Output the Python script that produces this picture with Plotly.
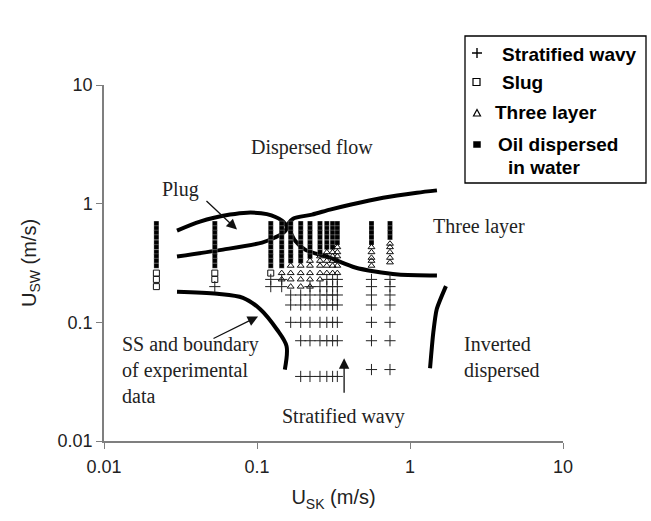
import math
import plotly.graph_objects as go

# ---------------- data ----------------
# superficial oil velocity of each measured column (m/s)
usk_cols = [0.022, 0.053, 0.123, 0.145, 0.166, 0.193, 0.222, 0.258, 0.286, 0.312, 0.335, 0.56, 0.74]

# superficial water velocities observed in every column, per flow regime (m/s)
usw_oil_dispersed = [
    [0.68, 0.62, 0.57, 0.52, 0.47, 0.43, 0.39, 0.36, 0.33, 0.30],
    [0.68, 0.62, 0.57, 0.52, 0.47, 0.43, 0.39, 0.36, 0.33, 0.30],
    [0.68, 0.62, 0.57, 0.52, 0.47, 0.43, 0.39, 0.36, 0.33, 0.30],
    [0.68, 0.62, 0.57, 0.52, 0.47, 0.43, 0.39, 0.36, 0.33, 0.30],
    [0.68, 0.62, 0.57, 0.52, 0.47, 0.43, 0.39, 0.36, 0.33],
    [0.68, 0.62, 0.57, 0.52, 0.47, 0.43, 0.39, 0.36, 0.33],
    [0.68, 0.62, 0.57, 0.52, 0.47, 0.43, 0.39, 0.36],
    [0.68, 0.62, 0.57, 0.52, 0.47, 0.43, 0.39],
    [0.68, 0.62, 0.57, 0.52, 0.47, 0.43],
    [0.68, 0.62, 0.57, 0.52, 0.47, 0.43],
    [0.68, 0.62, 0.57, 0.52, 0.47],
    [0.68, 0.62, 0.57, 0.52, 0.47],
    [0.68, 0.62, 0.57, 0.52],
]
usw_three_layer = [
    [], [], [],
    [0.26, 0.23],
    [0.30, 0.26, 0.23, 0.20],
    [0.30, 0.26, 0.23, 0.20],
    [0.33, 0.30, 0.26, 0.23, 0.20],
    [0.36, 0.33, 0.30, 0.26, 0.23],
    [0.39, 0.36, 0.33, 0.30, 0.26],
    [0.39, 0.36, 0.33, 0.30, 0.26],
    [0.43, 0.39, 0.36, 0.33, 0.30, 0.26],
    [0.43, 0.39, 0.35, 0.33, 0.30],
    [0.46, 0.43, 0.39, 0.35, 0.32],
]
usw_slug = [
    [0.26, 0.23, 0.20],
    [0.26, 0.23],
    [0.26],
    [], [], [], [], [], [], [], [], [], [],
]
usw_stratified = [
    [],
    [0.20],
    [0.23, 0.20],
    [0.23, 0.20],
    [0.17, 0.14, 0.10],
    [0.17, 0.14, 0.10, 0.07, 0.035],
    [0.20, 0.17, 0.14, 0.10, 0.07, 0.035],
    [0.20, 0.17, 0.14, 0.10, 0.07, 0.035],
    [0.23, 0.20, 0.17, 0.14, 0.10, 0.07, 0.035],
    [0.23, 0.20, 0.17, 0.14, 0.10, 0.07, 0.035],
    [0.23, 0.20, 0.17, 0.14, 0.10, 0.07, 0.035],
    [0.23, 0.20, 0.17, 0.14, 0.10, 0.07, 0.04],
    [0.23, 0.20, 0.17, 0.14, 0.10, 0.07, 0.04],
]

# regime boundaries (hand-drawn curves in the reference)
plug_upper_usk = [0.030, 0.0424, 0.0667, 0.0861, 0.116, 0.1455, 0.162, 0.177, 0.206, 0.296, 0.438, 0.590, 0.836, 1.50]
plug_upper_usw = [0.593, 0.706, 0.809, 0.840, 0.817, 0.720, 0.605, 0.489, 0.410, 0.352, 0.290, 0.268, 0.253, 0.248]
plug_lower_usk = [0.030, 0.060, 0.108, 0.131, 0.152, 0.160, 0.172, 0.229, 0.300, 0.406, 0.667, 1.11, 1.50]
plug_lower_usw = [0.359, 0.410, 0.470, 0.518, 0.582, 0.679, 0.748, 0.809, 0.891, 0.98, 1.122, 1.237, 1.294]
ss_usk = [0.030, 0.055, 0.081, 0.105, 0.135, 0.156, 0.152]
ss_usw = [0.181, 0.174, 0.161, 0.129, 0.087, 0.063, 0.040]
inv_usk = [1.718, 1.495, 1.42, 1.352]
inv_usw = [0.202, 0.129, 0.082, 0.041]

tick_vals = [0.01, 0.1, 1, 10]
tick_text = ["0.01", "0.1", "1", "10"]

# ---------------- layout geometry ----------------
W, H = 651, 521
ML, MR, MT, MB = 104, 88, 85, 80
PW, PH = W - ML - MR, H - MT - MB


def px_x(px):
    return (px - ML) / PW


def px_y(py):
    return (H - MB - py) / PH


def flatten(cols, usw):
    xs, ys = [], []
    for x, col in zip(cols, usw):
        for y in col:
            xs.append(x)
            ys.append(y)
    return xs, ys


SANS = "Liberation Sans, Arial, sans-serif"
SERIF = "Liberation Serif, Times New Roman, serif"

fig = go.Figure()

# boundaries
for bx, by, smooth in [(plug_upper_usk, plug_upper_usw, 0.8), (plug_lower_usk, plug_lower_usw, 0.8),
                       (ss_usk, ss_usw, 0.9), (inv_usk, inv_usw, 0.6)]:
    fig.add_trace(go.Scatter(x=bx, y=by, mode="lines", showlegend=False, hoverinfo="skip",
                             line=dict(color="black", width=4, shape="spline", smoothing=smooth)))

xs, ys = flatten(usk_cols, usw_oil_dispersed)
fig.add_trace(go.Scatter(x=xs, y=ys, mode="markers", name="Oil dispersed in water", showlegend=False,
                         marker=dict(symbol="square", size=5, color="black",
                                     line=dict(color="rgba(255,255,255,0.6)", width=0.4))))
xs, ys = flatten(usk_cols, usw_three_layer)
fig.add_trace(go.Scatter(x=xs, y=ys, mode="markers", name="Three layer", showlegend=False,
                         marker=dict(symbol="triangle-up-open", size=6, color="#111",
                                     line=dict(color="#111", width=1))))
xs, ys = flatten(usk_cols, usw_slug)
fig.add_trace(go.Scatter(x=xs, y=ys, mode="markers", name="Slug", showlegend=False,
                         marker=dict(symbol="square-open", size=6, color="#111",
                                     line=dict(color="#111", width=1))))
xs, ys = flatten(usk_cols, usw_stratified)
fig.add_trace(go.Scatter(x=xs, y=ys, mode="markers", name="Stratified wavy", showlegend=False,
                         marker=dict(symbol="cross-thin-open", size=8, color="#222",
                                     line=dict(color="#222", width=1))))

# ---------------- region labels & arrows ----------------
L = math.log10
annotations = []
region_labels = [
    ("Dispersed flow", 0.23, 2.96, "center"),
    ("Plug", 0.0318, 1.31, "center"),
    ("Three layer", 2.84, 0.64, "center"),
    ("SS and boundary<br>of experimental<br>data", 0.0127, 0.0395, "left"),
    ("Stratified wavy", 0.365, 0.0162, "center"),
    ("Inverted<br>dispersed", 2.2, 0.0505, "left"),
]
for text, x, y, anchor in region_labels:
    annotations.append(dict(x=L(x), y=L(y), xref="x", yref="y", text=text, showarrow=False,
                            xanchor=anchor, yanchor="middle", align="left",
                            font=dict(family=SERIF, size=20, color="#222")))

arrows = [
    ((0.0457, 1.08), (0.0740, 0.605)),   # plug
    ((0.0508, 0.072), (0.1016, 0.112)),  # SS boundary
    ((0.371, 0.0248), (0.371, 0.0498)),  # stratified wavy
]
for (tx, ty), (hx, hy) in arrows:
    annotations.append(dict(x=L(hx), y=L(hy), ax=L(tx), ay=L(ty), xref="x", yref="y",
                            axref="x", ayref="y", text="", showarrow=True,
                            arrowhead=2, arrowsize=1.6, arrowwidth=1.3, arrowcolor="#111"))

# ---------------- hand-made legend ----------------
legend_font = dict(family=SANS, size=19, color="black")
legend_text = [
    ("<b>Stratified wavy</b>", 500, 54),
    ("<b>Slug</b>", 500, 82),
    ("<b>Three layer</b>", 493, 113),
    ("<b>Oil dispersed</b>", 496, 144),
    ("<b>in water</b>", 506, 167),
]
for text, lx, ly in legend_text:
    annotations.append(dict(x=px_x(lx), y=px_y(ly), xref="paper", yref="paper", text=text,
                            showarrow=False, xanchor="left", yanchor="middle", font=legend_font))

shapes = [
    dict(type="rect", xref="paper", yref="paper", x0=px_x(465), x1=px_x(646), y0=px_y(183), y1=px_y(36),
         line=dict(color="black", width=1.3), fillcolor="white", layer="above"),
]
sym_common = dict(xref="paper", yref="paper", xsizemode="pixel", ysizemode="pixel", layer="above")
shapes.append(dict(type="path", xanchor=px_x(477), yanchor=px_y(53), path="M-5,0 L5,0 M0,-5 L0,5",
                   line=dict(color="black", width=1.4), **sym_common))
shapes.append(dict(type="rect", xanchor=px_x(476.5), yanchor=px_y(82), x0=-3.5, x1=3.5, y0=-3.5, y1=3.5,
                   line=dict(color="black", width=1.2), **sym_common))
shapes.append(dict(type="path", xanchor=px_x(477), yanchor=px_y(113), path="M-3.5,-3 L3.5,-3 L0,3.5 Z",
                   line=dict(color="black", width=1.2), **sym_common))
shapes.append(dict(type="rect", xanchor=px_x(477), yanchor=px_y(144.5), x0=-3.5, x1=3.5, y0=-3, y1=3,
                   line=dict(color="black", width=0.5), fillcolor="black", **sym_common))

axis_common = dict(type="log", range=[-2, 1], tickvals=tick_vals, ticktext=tick_text,
                   showgrid=False, zeroline=False, showline=True, linecolor="#7f7f7f", linewidth=1.5,
                   ticks="outside", ticklen=6, tickcolor="#7f7f7f", tickwidth=1.3,
                   tickfont=dict(family=SANS, size=18, color="#222"))

fig.update_layout(
    width=W, height=H,
    margin=dict(l=ML, r=MR, t=MT, b=MB, pad=0),
    paper_bgcolor="white", plot_bgcolor="white",
    showlegend=False,
    xaxis=dict(**axis_common, ticklabelstandoff=3,
               title=dict(text="U<sub>SK</sub> (m/s)", standoff=14,
                          font=dict(family=SANS, size=20, color="#222"))),
    yaxis=dict(**axis_common, title=dict(text="U<sub>SW</sub> (m/s)", standoff=16,
                                         font=dict(family=SANS, size=20, color="#222"))),
    annotations=annotations,
    shapes=shapes,
)

fig.write_html("out.html")
